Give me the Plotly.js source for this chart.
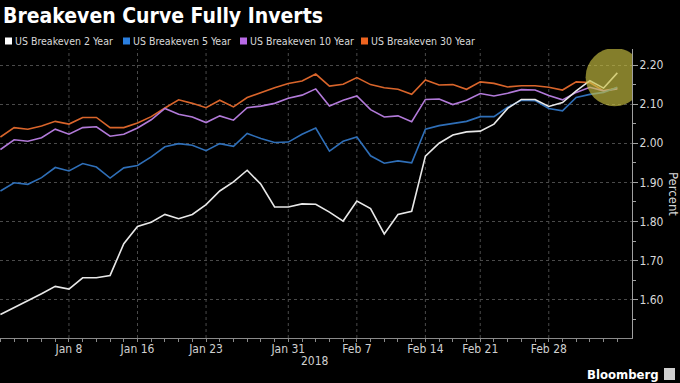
<!DOCTYPE html>
<html><head><meta charset="utf-8">
<script src="https://cdn.plot.ly/plotly-3.0.1.min.js"></script>
<style>html,body{margin:0;padding:0;background:#000;}#chart{width:680px;height:383px;}</style>
</head><body><div id="chart"></div>
<script>
// Trading days (x categories)
const dates = ['2017-12-29','2018-01-02','2018-01-03','2018-01-04','2018-01-05','2018-01-08','2018-01-09','2018-01-10','2018-01-11','2018-01-12',
  '2018-01-16','2018-01-17','2018-01-18','2018-01-19','2018-01-22','2018-01-23','2018-01-24','2018-01-25','2018-01-26','2018-01-29',
  '2018-01-30','2018-01-31','2018-02-01','2018-02-02','2018-02-05','2018-02-06','2018-02-07','2018-02-08','2018-02-09','2018-02-12',
  '2018-02-13','2018-02-14','2018-02-15','2018-02-16','2018-02-20','2018-02-21','2018-02-22','2018-02-23','2018-02-26','2018-02-27',
  '2018-02-28','2018-03-01','2018-03-02','2018-03-05','2018-03-06','2018-03-07'];

const seriesNames = ['US Breakeven 2 Year','US Breakeven 5 Year','US Breakeven 10 Year','US Breakeven 30 Year'];
const seriesColors = ['#e8e8e8','#2f6fb8','#b27ad9','#d9652b'];
const legendColors = ['#ffffff','#2a7fe0','#b86ae6','#ee6420'];

const be2y = [1.562,1.579,1.596,1.615,1.634,1.627,1.656,1.656,1.662,1.743,
  1.787,1.798,1.818,1.807,1.818,1.843,1.878,1.901,1.931,1.895,
  1.837,1.837,1.845,1.844,1.824,1.801,1.852,1.833,1.768,1.818,
  1.826,1.967,2.000,2.021,2.029,2.031,2.049,2.089,2.112,2.112,
  2.094,2.104,2.134,2.160,2.141,2.180];
const be5y = [1.878,1.899,1.895,1.912,1.938,1.929,1.948,1.939,1.911,1.937,
  1.943,1.965,1.991,1.999,1.995,1.981,1.999,1.992,2.025,2.012,
  2.002,2.003,2.023,2.039,1.980,2.005,2.016,1.968,1.949,1.955,
  1.950,2.036,2.045,2.050,2.056,2.068,2.068,2.092,2.110,2.109,
  2.089,2.083,2.117,2.125,2.130,2.143];
const be10y = [1.984,2.009,2.005,2.014,2.036,2.023,2.040,2.042,2.018,2.023,
  2.039,2.060,2.089,2.074,2.067,2.053,2.070,2.059,2.091,2.095,
  2.102,2.115,2.123,2.139,2.095,2.110,2.121,2.086,2.067,2.070,
  2.055,2.112,2.113,2.099,2.110,2.127,2.121,2.128,2.137,2.136,
  2.122,2.111,2.130,2.143,2.134,2.139];
const be30y = [2.016,2.040,2.036,2.044,2.056,2.049,2.066,2.066,2.040,2.040,
  2.052,2.068,2.090,2.111,2.102,2.091,2.110,2.093,2.117,2.130,
  2.142,2.153,2.159,2.177,2.146,2.151,2.168,2.150,2.142,2.138,
  2.125,2.162,2.149,2.150,2.138,2.157,2.153,2.144,2.147,2.147,
  2.143,2.136,2.157,2.155,2.134,2.141];

const tickDates = ['2018-01-08','2018-01-16','2018-01-23','2018-01-31','2018-02-07','2018-02-14','2018-02-21','2018-02-28'];
const tickLabels = ['Jan 8','Jan 16','Jan 23','Jan 31','Feb 7','Feb 14','Feb 21','Feb 28'];
const yTicks = [1.6,1.7,1.8,1.9,2.0,2.1,2.2];

const allSeries = [be2y, be5y, be10y, be30y];
const drawOrder = [3,2,1,0];
const traces = drawOrder.map(k => ({
  type:'scatter', mode:'lines', x:dates, y:allSeries[k], name:seriesNames[k],
  line:{color:seriesColors[k], width:1.6}, hoverinfo:'skip', showlegend:false
}));

const W = 680, H = 383, L = 0, R = 48, T = 49, B = 45;
const pw = W - L - R, ph = H - T - B;
const px = v => (v - L) / pw;          // pixel x -> paper
const py = v => (H - B - v) / ph;      // pixel y -> paper

const font = 'DejaVu Sans Condensed, DejaVu Sans, sans-serif';

const shapes = [];
// vertical dotted gridlines at labelled dates
tickDates.forEach(d => {
  const idx = dates.indexOf(d);
  shapes.push({type:'line', xref:'x', yref:'paper', x0:idx, x1:idx, y0:0, y1:1,
    line:{color:'#4a4a4a', width:1, dash:'dot'}, layer:'below'});
});
// legend squares
const legX = [5, 123, 240, 361];
const legTextX = [13, 131, 248, 369];
legendColors.forEach((c,i) => {
  shapes.push({type:'rect', xref:'paper', yref:'paper', x0:px(legX[i]), x1:px(legX[i]+7),
    y0:py(44.5), y1:py(37.5), fillcolor:c, line:{width:0}});
});
// highlight circle
shapes.push({type:'circle', xref:'x', yref:'y', xsizemode:'pixel', ysizemode:'pixel',
  xanchor: dates.length - 1.2, yanchor: 2.169, x0:-29, x1:29, y0:-29, y1:29,
  fillcolor:'rgba(200,192,66,0.66)', line:{width:0}, layer:'above'});
// Bloomberg icon
shapes.push({type:'rect', xref:'paper', yref:'paper', x0:px(664), x1:px(675), y0:py(380), y1:py(368),
  fillcolor:'#cfcfcf', line:{width:0}});

const annotations = [];
seriesNames.forEach((n,i) => {
  annotations.push({xref:'paper', yref:'paper', x:px(legTextX[i]), y:py(41), xanchor:'left', yanchor:'middle',
    text:n, showarrow:false, font:{family:font, size:10.5, color:'#d8d8d8'}});
});
annotations.push({xref:'paper', yref:'paper', x:px(315), y:py(361), xanchor:'center', yanchor:'middle',
  text:'2018', showarrow:false, font:{family:font, size:12, color:'#d0d0d0'}});
annotations.push({xref:'paper', yref:'paper', x:px(674), y:py(194), xanchor:'center', yanchor:'middle',
  text:'Percent', textangle:90, showarrow:false, font:{family:font, size:13, color:'#d8d8d8'}});
annotations.push({xref:'paper', yref:'paper', x:px(661), y:py(374), xanchor:'right', yanchor:'middle',
  text:'<b>Bloomberg</b>', showarrow:false, font:{family:font, size:13, color:'#ffffff'}});

const layout = {
  width:W, height:H, margin:{l:L, r:R, t:T, b:B, pad:0},
  paper_bgcolor:'#000', plot_bgcolor:'#000',
  title:{text:'<b>Breakeven Curve Fully Inverts</b>', x:px(3), xanchor:'left', xref:'paper',
    y:1 - 16/H, yanchor:'middle', font:{family:font, size:21, color:'#ffffff'}},
  showlegend:false,
  xaxis:{type:'category', range:[-0.03, 46.07], tickmode:'array', tickvals:dates,
    ticktext:dates.map(d => { const k = tickDates.indexOf(d); return k >= 0 ? tickLabels[k] : ''; }),
    ticks:'outside', ticklen:3, tickcolor:'#8a8a8a', showgrid:false, zeroline:false,
    showline:true, linecolor:'#8a8a8a', linewidth:1, ticklabelstandoff:-3,
    tickfont:{family:font, size:12, color:'#d0d0d0'}, fixedrange:true},
  yaxis:{side:'right', range:[1.502, 2.241], tickmode:'array', tickvals:yTicks, tickformat:'.2f',
    ticks:'outside', ticklen:5, tickcolor:'#a0a0a0', showline:true, linecolor:'#a0a0a0', linewidth:1,
    showgrid:true, gridcolor:'#4a4a4a', griddash:'dot', zeroline:false,
    minor:{tickmode:'linear', tick0:1.5, dtick:0.05, ticks:'outside', ticklen:3, tickcolor:'#a0a0a0', showgrid:false},
    tickfont:{family:font, size:12, color:'#d8d8d8'}, ticklabelstandoff:-1, fixedrange:true},
  shapes:shapes, annotations:annotations
};

Plotly.newPlot('chart', traces, layout, {displayModeBar:false, staticPlot:true});
</script>
</body></html>
